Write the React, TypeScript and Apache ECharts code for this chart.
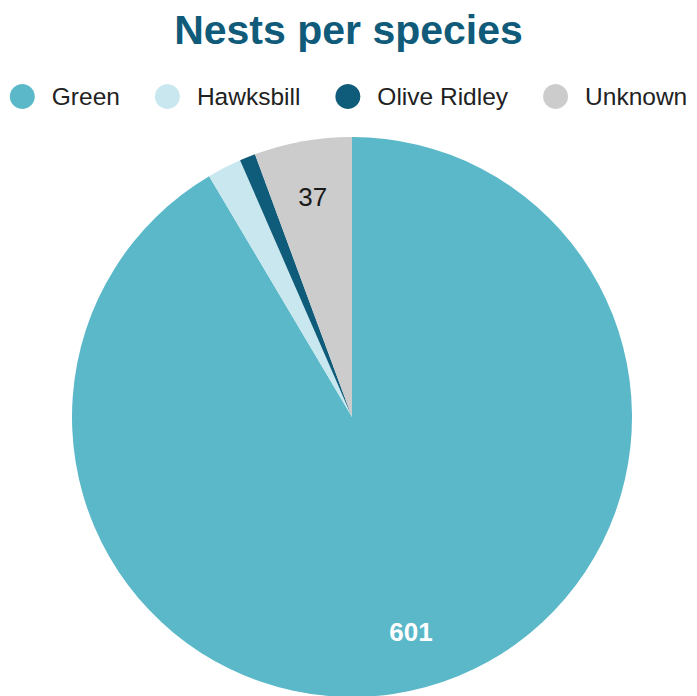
import React, { useEffect, useRef } from "react";
import * as echarts from "echarts";

const species = ["Green", "Hawksbill", "Olive Ridley", "Unknown"];
const nests = [601, 13, 6, 37];
const colors = ["#5ab8c9", "#c8e7ee", "#0e5c7a", "#cccccc"];
// Slices whose count is printed on the chart, with the label colour and weight.
const labelColors = ["#ffffff", "", "", "#1a1a1a"];
const labelWeights = ["bold", "normal", "normal", "normal"];

const FONT = "'Liberation Sans', Arial, Helvetica, sans-serif";

export default function App() {
  const ref = useRef<HTMLDivElement>(null);

  useEffect(() => {
    if (!ref.current) return;
    const chart = echarts.init(ref.current, undefined, { renderer: "svg" });

    const sliceData = species.map((name, i) => ({
      name,
      value: nests[i],
      itemStyle: { color: colors[i] },
    }));

    const labelData = species.map((name, i) => ({
      name,
      value: nests[i],
      label: {
        show: labelColors[i] !== "",
        color: labelColors[i] || "#000",
        fontWeight: labelWeights[i] as any,
      },
    }));

    chart.setOption({
      animation: false,
      backgroundColor: "#ffffff",
      title: {
        text: "Nests per species",
        left: "center",
        top: 4,
        textStyle: {
          fontFamily: FONT,
          fontSize: 41,
          fontWeight: "bold",
          color: "#105b79",
        },
      },
      legend: {
        data: species,
        top: 79,
        left: "center",
        icon: "circle",
        itemWidth: 25,
        itemHeight: 25,
        itemGap: 35,
        textStyle: {
          fontFamily: FONT,
          fontSize: 24.5,
          color: "#222222",
          padding: [0, 0, 0, 12],
        },
      },
      series: [
        {
          type: "pie",
          center: [352, 417],
          radius: [0, 280],
          startAngle: 90,
          clockwise: true,
          label: { show: false },
          labelLine: { show: false },
          emphasis: { disabled: true },
          data: sliceData,
        },
        {
          // transparent ring carrying the count labels
          type: "pie",
          center: [352, 417],
          radius: [160, 280],
          startAngle: 90,
          clockwise: true,
          silent: true,
          legendHoverLink: false,
          itemStyle: { color: "rgba(0,0,0,0)" },
          label: {
            position: "inside",
            formatter: "{c}",
            fontFamily: FONT,
            fontSize: 26,
          },
          labelLine: { show: false },
          emphasis: { disabled: true },
          data: labelData,
        },
      ],
    });

    return () => chart.dispose();
  }, []);

  return (
    <div
      ref={ref}
      style={{ position: "fixed", left: 0, top: 0, width: 697, height: 696 }}
    />
  );
}
